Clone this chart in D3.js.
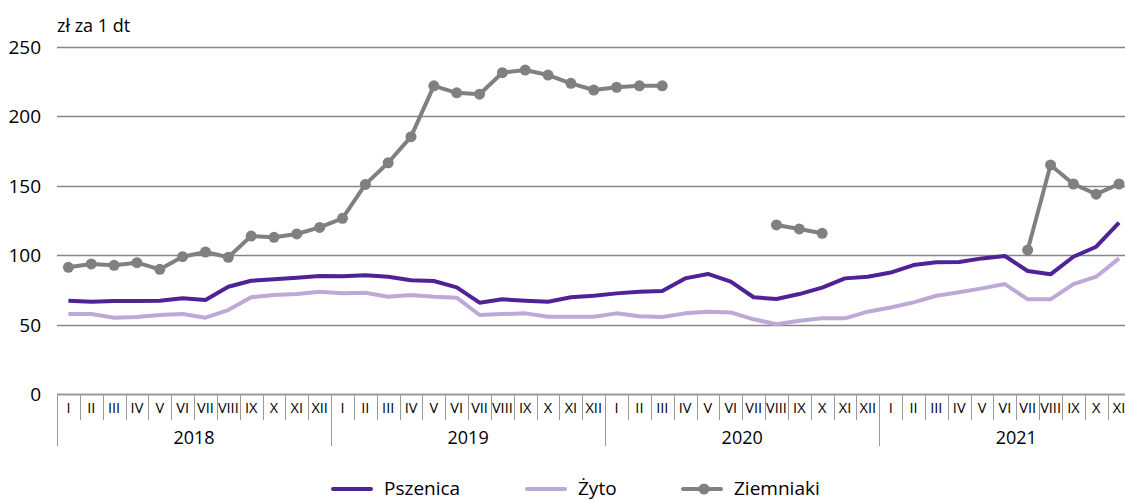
<!DOCTYPE html>
<html lang="pl">
<head>
    <meta charset="UTF-8">
    <title>Ceny skupu</title>
    <script src="https://cdnjs.cloudflare.com/ajax/libs/d3/7.8.5/d3.min.js"></script>
</head>
<style>
    body{
        margin:0;
        background:#fff;
    }
    svg text{
        font-family:"Open Sans", "Noto Sans", sans-serif;
        fill:#000;
    }
</style>
<body>
<div id="chart"></div>
<script>
    // dane (zł za 1 dt)
    var years = ["2018", "2019", "2020", "2021"];
    var monthNames = ["I","II","III","IV","V","VI","VII","VIII","IX","X","XI","XII"];
    var pszenica = [67.2, 66.5, 67, 67, 67.2, 69, 67.7, 77.3, 81.6, 82.6, 83.8, 85,
        84.8, 85.5, 84.5, 82, 81.4, 76.8, 65.8, 68.2, 67.2, 66.5, 69.7, 70.8,
        72.5, 73.7, 74.2, 83.3, 86.5, 80.9, 69.7, 68.4, 72, 76.6, 83.3, 84.5,
        87.5, 92.9, 94.9, 95.1, 97.7, 99.4, 88.6, 86.2, 98.9, 106.1, 123.4];
    var zyto = [57.6, 57.6, 55, 55.4, 56.9, 57.6, 55, 60.5, 69.7, 71.3, 72, 73.6,
        72.5, 73, 70, 71.3, 70, 69.4, 56.9, 57.6, 58.1, 55.7, 55.7, 55.7,
        58.1, 56, 55.5, 58.1, 59.3, 58.8, 53.8, 50.2, 52.8, 54.5, 54.5, 59.3,
        62.3, 66, 70.8, 73.3, 76.1, 79.2, 68.2, 68.2, 79.2, 84.5, 97.7];
    var ziemniaki = [91.3, 93.7, 92.7, 94.6, 89.8, 98.9, 102.3, 98.5, 113.8, 112.9, 115.3, 120,
        126.6, 151, 166.6, 185.4, 222, 217, 216, 231.5, 233.4, 229.8, 223.8, 219,
        221, 222, 222, null, null, null, null, 121.8, 118.9, 115.8, null, null,
        null, null, null, null, null, null, 103.7, 165, 151.3, 144, 151.3];
    var yTicks = [0, 50, 100, 150, 200, 250];

    var W = 1125, H = 502;
    var left = 57, monthW = 22.84;
    var n = pszenica.length;

    var svg = d3.select("#chart").append("svg")
        .attr("width", W)
        .attr("height", H);

    var x = d3.scaleBand()
        .domain(d3.range(n))
        .range([left, left + n * monthW]);
    var y = d3.scaleLinear().domain([0, 250]).range([394, 47]);

    // siatka
    svg.append("g").selectAll("line")
        .data(yTicks.filter(function(d){ return d > 0; }))
        .enter().append("line")
        .attr("x1", left).attr("x2", W)
        .attr("y1", function(d){ return Math.round(y(d)) + 0.5; })
        .attr("y2", function(d){ return Math.round(y(d)) + 0.5; })
        .style("stroke", "#868686")
        .style("stroke-width", 1.3);

    svg.append("g").selectAll("text")
        .data(yTicks)
        .enter().append("text")
        .attr("x", 41)
        .attr("y", function(d){ return y(d) + 7; })
        .attr("text-anchor", "end")
        .style("font-size", "19px")
        .text(function(d){ return d; });

    svg.append("text")
        .attr("x", 57).attr("y", 32)
        .style("font-size", "18px")
        .text("zł za 1 dt");

    // oś x: miesiące i lata
    var axis = svg.append("g");
    axis.append("line")
        .attr("x1", left).attr("x2", W)
        .attr("y1", 394.5).attr("y2", 394.5)
        .style("stroke", "#9a9a9a").style("stroke-width", 2);
    axis.selectAll(".mtick")
        .data(d3.range(n + 1))
        .enter().append("line")
        .attr("class", "mtick")
        .attr("x1", function(i){ return Math.round(left + i * monthW) + 0.5; })
        .attr("x2", function(i){ return Math.round(left + i * monthW) + 0.5; })
        .attr("y1", 394)
        .attr("y2", function(i){ return i % 12 == 0 ? 446 : 420; })
        .style("stroke", "#9a9a9a");
    axis.selectAll(".mlab")
        .data(d3.range(n))
        .enter().append("text")
        .attr("class", "mlab")
        .attr("x", function(i){ return x(i) + x.bandwidth() / 2; })
        .attr("y", 413)
        .attr("text-anchor", "middle")
        .style("font-size", "14.5px")
        .text(function(i){ return monthNames[i % 12]; });
    axis.selectAll(".ylab")
        .data(years)
        .enter().append("text")
        .attr("class", "ylab")
        .attr("x", function(d, i){ return left + (i * 12 + 6) * monthW; })
        .attr("y", 444)
        .attr("text-anchor", "middle")
        .style("font-size", "18px")
        .text(function(d){ return d; });

    // linie
    var line = d3.line()
        .defined(function(d){ return d != null; })
        .x(function(d, i){ return x(i) + x.bandwidth() / 2; })
        .y(function(d){ return y(d); });

    var series = [
        {name: "Pszenica", values: pszenica, color: "#4f2296", marker: false},
        {name: "Żyto", values: zyto, color: "#bca9d8", marker: false},
        {name: "Ziemniaki", values: ziemniaki, color: "#808080", marker: true}
    ];

    series.forEach(function(s){
        svg.append("path")
            .attr("d", line(s.values))
            .style("fill", "none")
            .style("stroke", s.color)
            .style("stroke-width", 4)
            .style("stroke-linejoin", "round");
        if(s.marker){
            svg.append("g").selectAll("circle")
                .data(s.values.map(function(v, i){ return {v: v, i: i}; })
                    .filter(function(d){ return d.v != null; }))
                .enter().append("circle")
                .attr("cx", function(d){ return x(d.i) + x.bandwidth() / 2; })
                .attr("cy", function(d){ return y(d.v); })
                .attr("r", 5.5)
                .style("fill", s.color);
        }
    });

    // legenda
    var legX = [333, 527, 683];
    var leg = svg.append("g").selectAll("g")
        .data(series)
        .enter().append("g")
        .attr("transform", function(d, i){ return "translate(" + legX[i] + ",489)"; });
    leg.append("line")
        .attr("x1", 0).attr("x2", 38)
        .style("stroke", function(d){ return d.color; })
        .style("stroke-width", 4)
        .style("stroke-linecap", "round");
    leg.filter(function(d){ return d.marker; }).append("circle")
        .attr("cx", 21).attr("r", 5.5)
        .style("fill", function(d){ return d.color; });
    leg.append("text")
        .attr("x", 51).attr("y", 6)
        .style("font-size", "19px")
        .text(function(d){ return d.name; });
</script>
</body>
</html>
